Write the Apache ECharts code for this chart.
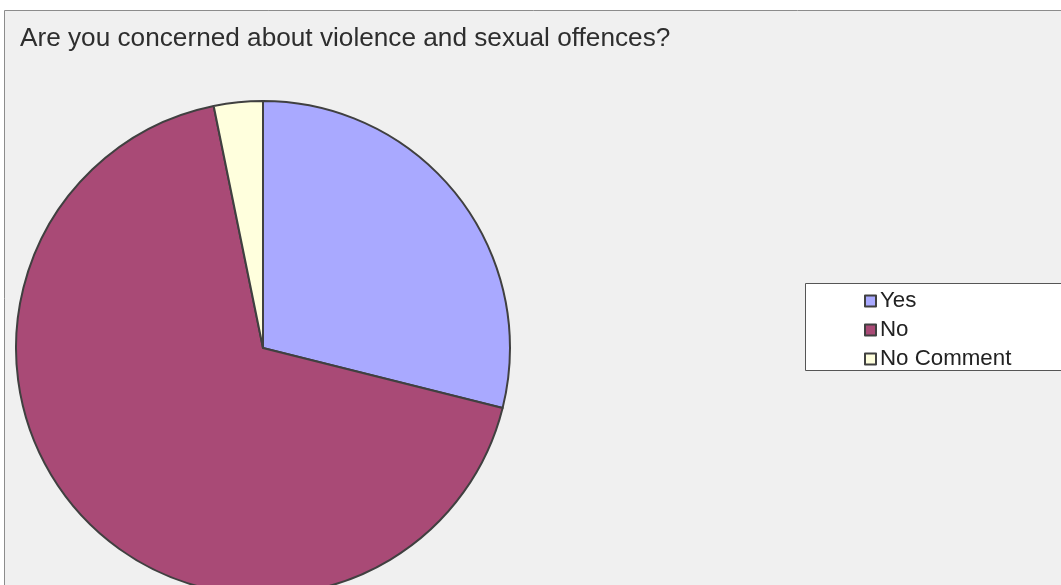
<!DOCTYPE html>
<html>
<head>
<meta charset="utf-8">
<script src="https://cdn.jsdelivr.net/npm/echarts@6/dist/echarts.min.js"></script>
<style>
html,body{margin:0;padding:0;background:#fff;}
#chart{width:1061px;height:585px;}
</style>
</head>
<body>
<div id="chart"></div>
<script>
const titleText = "Are you concerned about violence and sexual offences?";
const categories = ["Yes", "No", "No Comment"];
const values = [28.9, 67.9, 3.2];
const colors = ["#A9A9FF", "#A94A76", "#FFFFDD"];

const chart = echarts.init(document.getElementById('chart'), null, {renderer: 'canvas'});
const font = "'Liberation Sans', Arial, sans-serif";
chart.setOption({
  animation: false,
  backgroundColor: '#ffffff',
  graphic: [
    {type: 'rect', z: -10, shape: {x: 4.5, y: 10.5, width: 1100, height: 600},
     style: {fill: '#F0F0F0', stroke: '#8C8C8C', lineWidth: 1}},
    {type: 'rect', z: -5, shape: {x: 805.5, y: 283.5, width: 300, height: 87},
     style: {fill: '#ffffff', stroke: '#555555', lineWidth: 1}}
  ],
  title: {
    text: titleText, left: 15, top: 21,
    textStyle: {fontFamily: font, fontSize: 26.2, fontWeight: 'normal', color: '#2e2e2e'}
  },
  legend: {
    orient: 'vertical', left: 859, top: 285,
    itemWidth: 11, itemHeight: 11, itemGap: 7,
    icon: 'rect',
    data: categories,
    textStyle: {fontFamily: font, fontSize: 22.3, lineHeight: 22, color: '#222', padding: [0,0,0,-1]},
    itemStyle: {borderColor: '#404040', borderWidth: 2}
  },
  series: [{
    type: 'pie',
    center: [263, 348],
    radius: [0, 247],
    startAngle: 90,
    clockwise: true,
    label: {show: false},
    labelLine: {show: false},
    emphasis: {disabled: true},
    itemStyle: {borderColor: '#404040', borderWidth: 2},
    data: categories.map((c, i) => ({name: c, value: values[i], itemStyle: {color: colors[i]}}))
  }]
});
</script>
</body>
</html>
